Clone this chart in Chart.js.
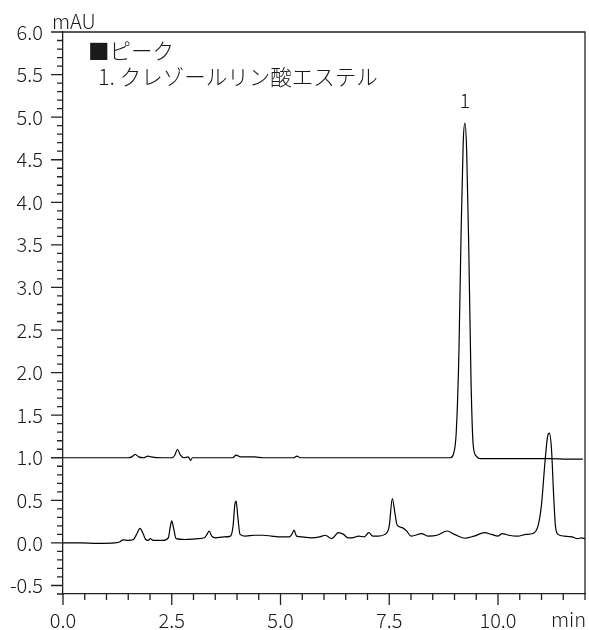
<!DOCTYPE html>
<html>
<head>
<meta charset="utf-8">
<script src="https://cdn.jsdelivr.net/npm/chart.js@4.4.1/dist/chart.umd.min.js"></script>
<style>
  html, body { margin: 0; padding: 0; background: #fff; }
</style>
</head>
<body>
<canvas id="myChart" width="589" height="630"></canvas>
<script>
// 軸ラベル
const xLabels = [0, 2.5, 5, 7.5, 10];
const yLabels = [-0.5, 0, 0.5, 1, 1.5, 2, 2.5, 3, 3.5, 4, 4.5, 5, 5.5, 6];
const xUnit = 'min';
const yUnit = 'mAU';
const legendTitle = '■ピーク';
const legendItems = ['1. クレゾールリン酸エステル'];
const peakLabels = ['1'];
const peakTimes = [9.24];
const peakHeights = [4.93];

// 上のクロマトグラム (標準)
const timeUpper = [0, 0.5, 1.0, 1.5, 1.58, 1.66, 1.74, 1.85, 1.95, 2.02, 2.3, 2.5, 2.57, 2.63, 2.7, 2.78, 2.88, 2.93, 2.98,
  3.3, 3.9, 3.98, 4.08, 4.4, 4.6, 5.3, 5.38, 5.45, 5.7, 6.5, 7.5, 8.5, 8.9, 8.98, 9.04, 9.1, 9.15, 9.2, 9.24, 9.28, 9.33,
  9.38, 9.43, 9.5, 9.6, 10.5, 11.2, 11.6, 11.95];
const signalUpper = [1.0, 1.0, 1.0, 1.0, 1.01, 1.04, 1.01, 1.0, 1.02, 1.01, 1.0, 1.0, 1.03, 1.1, 1.03, 1.0, 1.01, 0.97, 1.0,
  1.0, 1.0, 1.03, 1.01, 1.01, 1.0, 1.0, 1.02, 1.0, 1.0, 1.0, 1.0, 1.0, 1.0, 1.05, 1.3, 2.2, 3.6, 4.7, 4.93, 4.6, 3.4,
  1.9, 1.15, 1.02, 0.99, 0.99, 0.99, 0.985, 0.985];

// 下のクロマトグラム (試料)
const timeLower = [0, 0.4, 0.8, 1.2, 1.3, 1.38, 1.5, 1.62, 1.7, 1.77, 1.84, 1.9, 1.96, 2.01, 2.07, 2.3, 2.42, 2.47, 2.5,
  2.54, 2.6, 2.8, 3.1, 3.25, 3.31, 3.36, 3.42, 3.5, 3.7, 3.85, 3.91, 3.95, 3.98, 4.02, 4.07, 4.2, 4.4, 4.6, 4.8, 5.0,
  5.2, 5.26, 5.31, 5.37, 5.5, 5.7, 5.9, 6.03, 6.18, 6.33, 6.45, 6.55, 6.64, 6.8, 6.92, 7.03, 7.12, 7.25, 7.4, 7.5,
  7.57, 7.63, 7.68, 7.8, 7.9, 8.0, 8.1, 8.24, 8.39, 8.6, 8.83, 9.0, 9.23, 9.45, 9.69, 9.85, 10.0, 10.1, 10.25, 10.45,
  10.65, 10.8, 10.92, 11.0, 11.08, 11.14, 11.18, 11.23, 11.28, 11.32, 11.38, 11.52, 11.7, 11.83, 11.92, 12.0];
const signalLower = [0.0, 0.0, -0.005, 0.0, 0.01, 0.035, 0.03, 0.04, 0.11, 0.17, 0.11, 0.04, 0.03, 0.05, 0.03, 0.03, 0.06, 0.2, 0.26,
  0.18, 0.05, 0.04, 0.05, 0.06, 0.1, 0.14, 0.08, 0.06, 0.07, 0.08, 0.2, 0.45, 0.49, 0.3, 0.1, 0.08, 0.09, 0.09, 0.08, 0.07,
  0.07, 0.1, 0.15, 0.08, 0.07, 0.06, 0.07, 0.09, 0.05, 0.12, 0.1, 0.06, 0.06, 0.08, 0.07, 0.12, 0.08, 0.08, 0.1, 0.2,
  0.52, 0.35, 0.21, 0.18, 0.14, 0.08, 0.09, 0.11, 0.08, 0.09, 0.14, 0.1, 0.055, 0.08, 0.12, 0.1, 0.08, 0.11, 0.09, 0.08,
  0.1, 0.11, 0.2, 0.45, 0.95, 1.25, 1.29, 1.1, 0.55, 0.2, 0.1, 0.08, 0.07, 0.05, 0.06, 0.05];

const fontFamily = "'Noto Sans CJK JP', 'Noto Sans', sans-serif";
const textColor = '#1a1a1a';
const axisColor = '#222';

// 枠線・目盛り・注釈
const framePlugin = {
  id: 'frame',
  afterDraw(chart) {
    const ctx = chart.ctx;
    const a = chart.chartArea;
    const xs = chart.scales.x;
    const ys = chart.scales.y;
    ctx.save();
    ctx.strokeStyle = axisColor;
    ctx.lineWidth = 1.3;
    ctx.beginPath();
    ctx.moveTo(a.left, a.top);
    ctx.lineTo(a.right, a.top);
    ctx.lineTo(a.right, a.bottom);
    for (let i = 0; i <= 24; i++) {
      const px = xs.getPixelForValue(i * 0.5);
      const len = (i % 5 == 0) ? 11 : 6;
      ctx.moveTo(px, a.bottom);
      ctx.lineTo(px, a.bottom + len);
    }
    for (let i = -6; i <= 60; i++) {
      const py = ys.getPixelForValue(i / 10);
      const len = (i % 5 == 0) ? 12 : 6;
      ctx.moveTo(a.left, py);
      ctx.lineTo(a.left - len, py);
    }
    ctx.stroke();

    ctx.fillStyle = textColor;
    ctx.font = '300 20px ' + fontFamily;
    ctx.textBaseline = 'alphabetic';
    ctx.textAlign = 'left';
    ctx.fillText(yUnit, a.left - 11, a.top - 3);
    ctx.textAlign = 'right';
    ctx.fillText(xUnit, a.right + 1, 627);

    ctx.textAlign = 'center';
    peakLabels.forEach((lab, i) => {
      ctx.fillText(lab, xs.getPixelForValue(peakTimes[i]), ys.getPixelForValue(peakHeights[i]) - 15);
    });

    ctx.font = '300 21.5px ' + fontFamily;
    ctx.textAlign = 'left';
    ctx.textBaseline = 'middle';
    ctx.fillText(legendTitle, 88, 51);
    legendItems.forEach((t, i) => {
      ctx.fillText(t, 98, 77 + i * 28);
    });
    ctx.restore();
  }
};

const config = {
  type: 'line',
  data: {
    datasets: [
      {
        label: 'upper',
        data: timeUpper.map((t, i) => ({ x: t, y: signalUpper[i] })),
        borderColor: '#000',
        borderWidth: 1.2,
        pointRadius: 0,
        fill: false,
        cubicInterpolationMode: 'monotone'
      },
      {
        label: 'lower',
        data: timeLower.map((t, i) => ({ x: t, y: signalLower[i] })),
        borderColor: '#000',
        borderWidth: 1.2,
        pointRadius: 0,
        fill: false,
        cubicInterpolationMode: 'monotone'
      }
    ]
  },
  options: {
    responsive: false,
    animation: false,
    layout: { padding: { top: 31, right: 4, left: 0, bottom: 0 } },
    plugins: { legend: { display: false }, tooltip: { enabled: false } },
    scales: {
      x: {
        type: 'linear',
        min: 0,
        max: 12,
        grid: { display: false, drawTicks: false },
        border: { display: true, color: axisColor, width: 1.3 },
        afterBuildTicks: s => { s.ticks = xLabels.map(v => ({ value: v })); },
        afterFit: s => { s.height = 36; },
        ticks: {
          padding: 14,
          color: textColor,
          maxRotation: 0,
          autoSkip: false,
          font: { family: fontFamily, size: 20, weight: '300' },
          callback: v => Number(v).toFixed(1)
        }
      },
      y: {
        min: -0.6,
        max: 6.0,
        grid: { display: false, drawTicks: false },
        border: { display: true, color: axisColor, width: 1.3 },
        afterBuildTicks: s => { s.ticks = yLabels.map(v => ({ value: v })); },
        afterFit: s => { s.width = 63; },
        ticks: {
          padding: 20,
          color: textColor,
          autoSkip: false,
          font: { family: fontFamily, size: 20, weight: '300' },
          callback: v => Number(v).toFixed(1)
        }
      }
    }
  },
  plugins: [framePlugin]
};

const ctx = document.getElementById('myChart').getContext('2d');
const myChart = new Chart(ctx, config);
</script>
</body>
</html>
